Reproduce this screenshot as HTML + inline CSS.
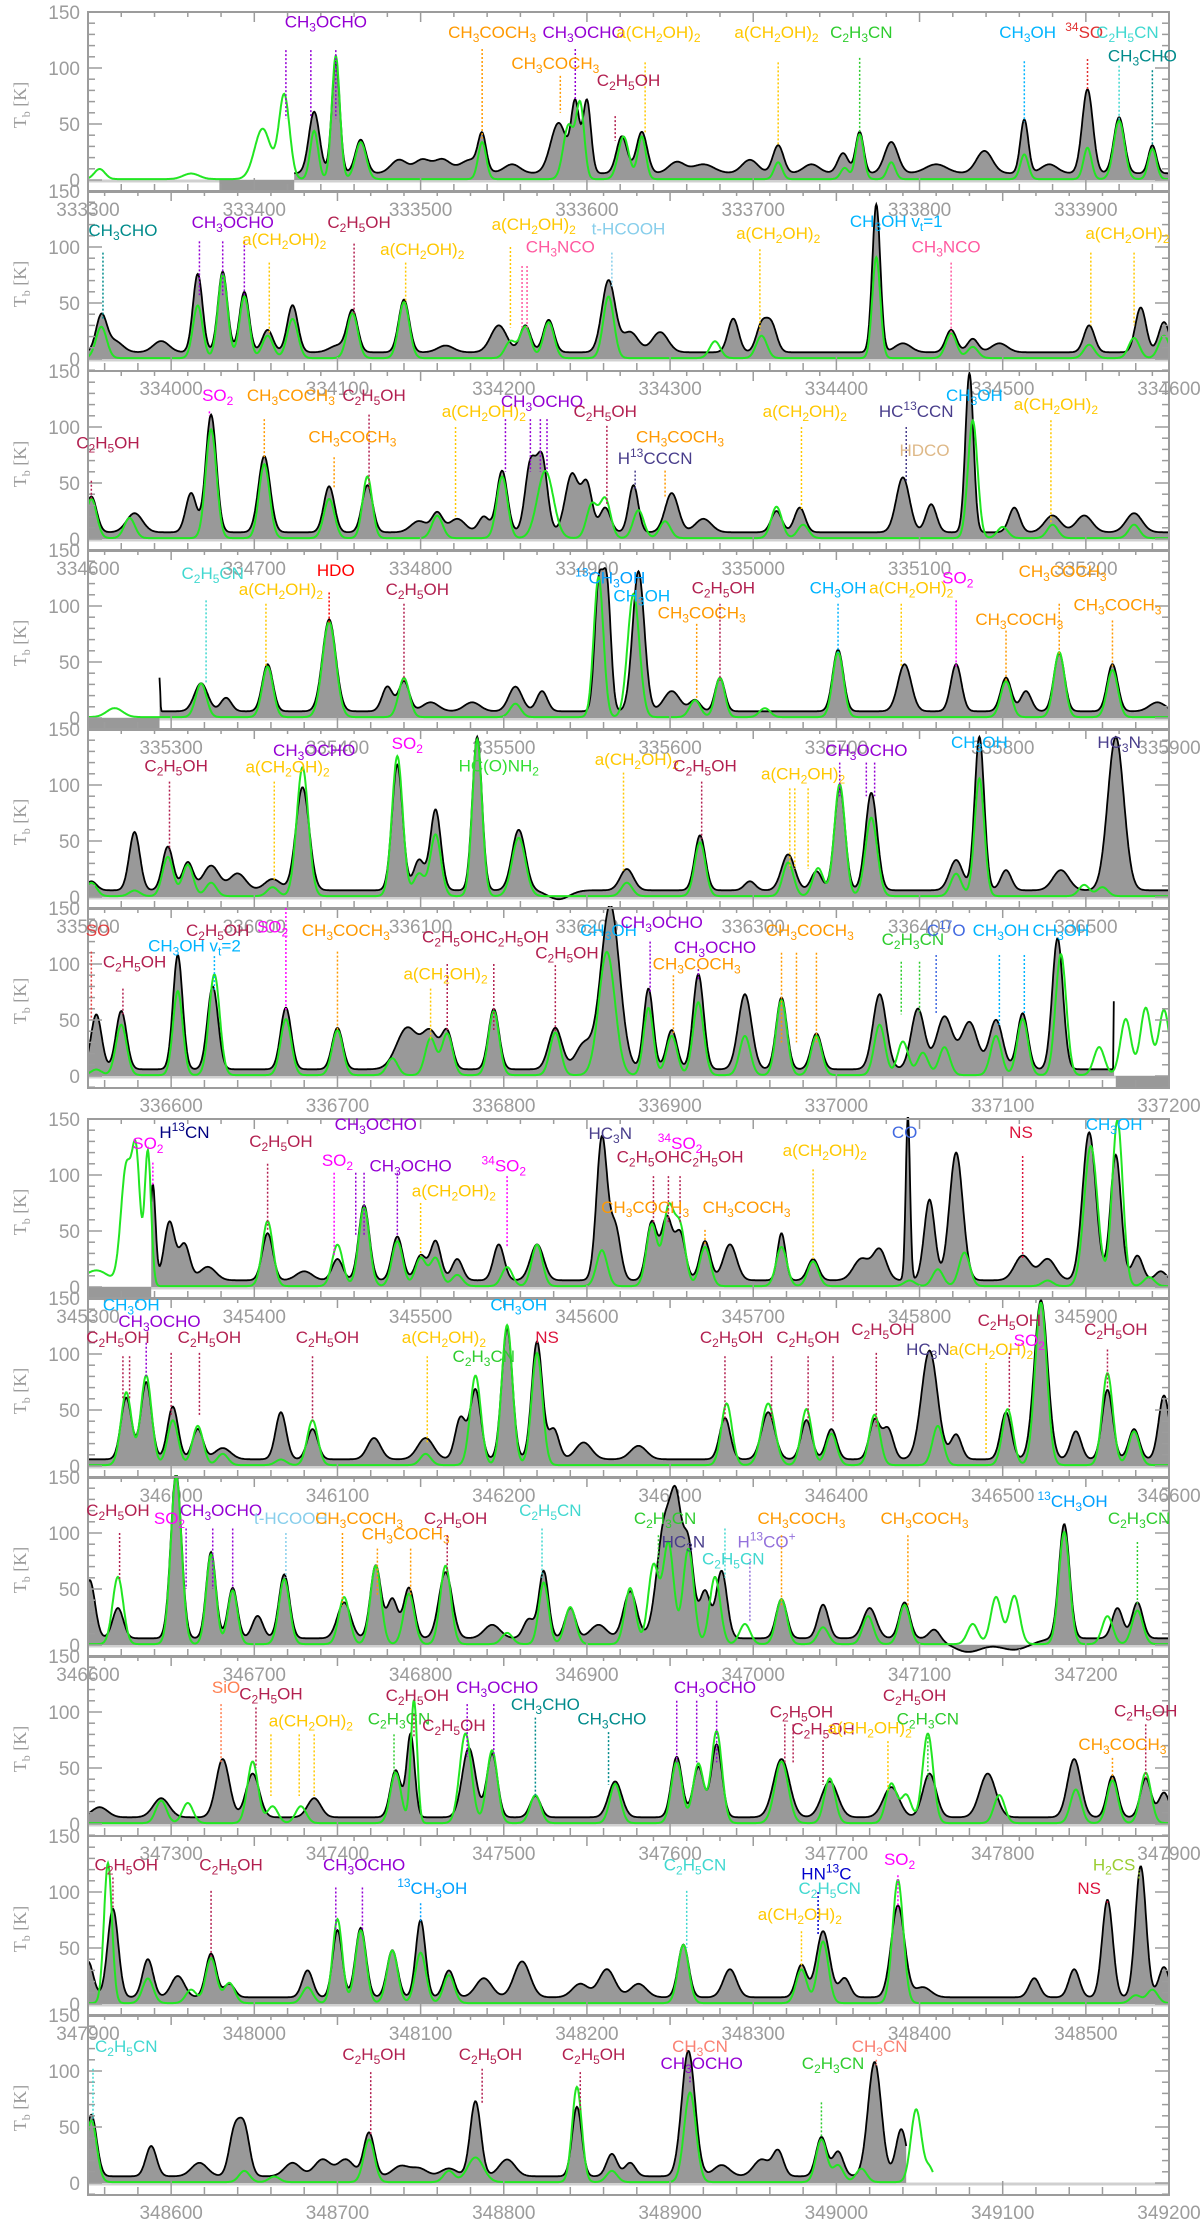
<!DOCTYPE html>
<html><head><meta charset="utf-8">
<style>
html,body{margin:0;padding:0;background:#fff;}
svg{display:block;}
</style></head>
<body>
<svg id="chart" xmlns="http://www.w3.org/2000/svg" width="1200" height="2227" viewBox="0 0 1200 2227"></svg>
<script>
const panelStarts=[333300,333950,334600,335250,335900,336550,345300,345950,346600,347250,347900,348550];
const obsRange=[[333424,333950],[333950,334600],[334600,335250],[335293,335900],[335900,336550],[336550,337167],[345338,345950],[345950,346600],[346600,347250],[347250,347900],[347900,348550],[348550,349042]];
const modRange=[[333300,333950],[333950,334600],[334600,335250],[335250,335900],[335900,336550],[336550,337200],[345300,345950],[345950,346600],[346600,347250],[347250,347900],[347900,348550],[348550,349058]];
const maskedBlocks=[[333379,333424],null,null,[335250,335293],null,[337168,337200],[345300,345338],null,null,null,null,null];
const obsLines=[
[[333436,55,2],[333449,100,1.5],[333464,30,2],[333487,12,3],[333501,12,3],[333513,12,3],[333530,12,4],[333537,30,1.5],[333555,8,3],[333583,45,3],[333593,60,1.5],[333600,65,1.5],[333621,33,2],[333633,37,2],[333654,10,3],[333670,8,4],[333698,12,3],[333715,25,2],[333735,8,3],[333754,18,2],[333764,37,1.5],[333783,28,2.5],[333810,8,4],[333839,20,3],[333863,48,1.5],[333878,8,3],[333901,75,2],[333920,50,2],[333940,25,1.5]],
[[333958,32,2],[333966,10,3],[333994,10,3],[334016,70,1.8],[334031,72,1.8],[334044,54,1.8],[334058,20,2],[334073,42,2],[334100,6,3],[334109,37,2],[334140,47,2],[334165,6,3],[334197,24,3],[334213,24,2],[334227,29,2],[334263,64,2.5],[334276,18,3],[334294,18,3],[334338,30,2],[334355,24,2],[334361,24,2],[334424,132,1.5],[334440,8,3],[334469,20,2],[334482,12,2],[334498,8,3],[334552,24,2],[334583,40,2],[334597,27,2]],
[[334602,32,2],[334628,17,3],[334662,35,2],[334674,105,2],[334706,68,2.2],[334745,41,2],[334768,42,2],[334799,10,3],[334810,17,2],[334822,12,3],[334838,14,2],[334849,55,2],[334866,60,2],[334873,65,2],[334891,52,2.5],[334900,42,2],[334911,22,2],[334928,42,1.8],[334951,35,2.5],[334970,12,3],[335014,19,2],[335028,22,2],[335090,49,2.5],[335107,25,2],[335130,142,1.5],[335157,22,2],[335180,15,3],[335199,15,3],[335229,17,3]],
[[335293,30,0.4],[335318,25,2.5],[335333,12,2],[335358,42,2],[335395,82,2.5],[335430,22,2],[335440,27,2],[335456,8,3],[335481,8,3],[335507,22,2.5],[335523,18,2],[335557,108,1.5],[335562,110,1.5],[335581,125,2.2],[335601,18,3],[335615,10,2],[335630,30,1.8],[335701,55,2],[335741,42,2.5],[335772,42,2],[335802,30,2],[335814,18,2],[335834,52,2],[335866,42,2],[335893,8,3]],
[[335902,8,2],[335928,52,2],[335948,39,2],[335960,25,2],[335974,22,3],[335990,15,3],[336011,10,3],[336029,92,2.5],[336086,112,2],[336099,27,2],[336109,72,2],[336134,137,1.8],[336159,54,2.5],[336183,-8,4],[336224,19,2.5],[336268,49,2],[336298,8,2],[336321,32,2.5],[336338,17,2],[336352,92,2],[336371,87,2.2],[336422,27,2.5],[336436,137,1.8],[336452,18,2],[336485,18,3],[336518,137,3]],
[[336555,49,2],[336570,52,2],[336604,102,1.8],[336625,74,2],[336669,55,2],[336700,37,2],[336742,37,4],[336756,32,3],[336766,32,2],[336794,54,2],[336831,37,2.5],[336848,22,3],[336864,147,3.5],[336887,72,1.8],[336901,35,2],[336917,85,2],[336945,67,2.5],[336967,64,2],[336988,32,2],[337026,67,2.5],[337049,54,2.5],[337065,47,3],[337080,42,3],[337096,44,2.5],[337112,50,2],[337133,117,2],[337167,100,0.2]],
[[345339,85,1],[345349,52,2],[345358,32,2],[345372,12,3],[345408,42,2],[345430,8,3],[345450,19,2],[345466,67,2],[345486,39,2],[345500,22,2],[345509,35,2],[345522,19,2],[345547,32,2],[345570,32,2.5],[345609,127,2],[345617,47,2],[345639,52,2],[345648,55,2],[345656,42,2],[345671,35,2],[345686,32,2.5],[345717,42,1.5],[345736,19,2],[345765,19,3],[345776,27,2.5],[345793,147,0.8],[345806,72,2],[345822,114,2.5],[345862,22,3],[345877,19,3],[345902,132,2.5],[345918,112,2],[345931,22,2],[345945,8,2]],
[[345973,55,2],[345985,69,2],[346001,47,2],[346016,27,2],[346031,10,3],[346066,42,2],[346085,27,2],[346122,19,2.5],[346153,19,3],[346174,37,2],[346183,62,2],[346202,117,2],[346220,105,2],[346230,27,2],[346248,15,3],[346281,12,3],[346333,37,2],[346359,42,2.5],[346382,35,2],[346397,27,2],[346423,35,2],[346431,27,2],[346456,97,3],[346472,22,2],[346502,42,2],[346523,142,2.5],[346544,25,2],[346563,62,2],[346579,27,2],[346597,57,2]],
[[346601,52,2],[346618,27,2],[346653,147,2],[346674,77,1.8],[346687,45,1.8],[346702,20,2],[346718,57,2],[346754,32,2.5],[346773,65,2],[346783,35,2],[346793,45,2],[346815,59,2.5],[346843,12,3],[346865,17,2],[346874,60,1.8],[346890,27,2],[346907,12,3],[346926,42,2.5],[346947,104,3],[346954,89,2],[346961,82,2],[346971,42,2],[346981,60,2],[347017,35,2],[347042,30,2],[347070,27,2.5],[347091,32,2],[347109,9,2],[347129,-12,6],[347157,-10,6],[347187,102,2],[347219,27,2],[347231,32,2]],
[[347257,9,3],[347294,17,3],[347331,52,2.5],[347349,39,2.5],[347386,17,2.5],[347435,42,2],[347444,74,1.5],[347479,62,2.5],[347493,57,2],[347519,19,2],[347567,32,2.5],[347604,54,2],[347617,45,2],[347628,65,2],[347667,52,3],[347696,32,3],[347733,27,3],[347756,39,2.5],[347791,39,3],[347843,52,2.5],[347866,37,2],[347886,35,2],[347897,22,2]],
[[347900,32,2],[347915,79,2],[347936,34,2],[347954,19,2.5],[347974,39,2],[347985,12,2],[348032,24,2],[348050,60,1.8],[348064,62,2],[348083,42,2],[348100,69,1.8],[348117,24,2],[348138,17,3],[348161,32,3],[348196,12,3],[348212,25,3],[348231,12,3],[348258,47,2],[348286,25,2.5],[348329,29,2],[348342,59,2.5],[348355,17,2],[348387,82,2.5],[348402,9,3],[348469,17,2],[348493,25,2],[348513,87,2],[348533,117,2],[348547,27,2]],
[[348552,55,2],[348588,27,2],[348617,12,3],[348638,39,2],[348644,42,2],[348673,12,3],[348691,15,3],[348705,15,3],[348719,39,2],[348738,9,3],[348749,7,3],[348767,7,3],[348783,67,2],[348802,15,3],[348844,62,1.8],[348865,20,2],[348876,12,2],[348911,112,2.5],[348931,10,3],[348955,15,3],[348965,22,2],[348991,35,2],[349001,22,2],[349023,102,2.5],[349039,42,2]]
];
const modLines=[
[[333307,9,2],[333362,5,3],[333405,45,3],[333418,75,2],[333436,43,1.5],[333449,110,1.5],[333464,33,2],[333537,33,1.5],[333589,48,2],[333596,65,1.5],[333622,38,2],[333633,38,1.5],[333715,15,1.5],[333755,10,1.5],[333764,40,1.5],[333783,15,1.5],[333863,22,1.5],[333901,28,1.5],[333920,52,2],[333940,27,1.5]],
[[333958,28,2],[334016,47,1.8],[334031,75,1.8],[334044,55,1.8],[334058,20,2],[334073,35,2],[334109,40,2],[334140,50,2],[334204,15,2],[334213,28,2],[334227,32,2],[334263,55,2],[334327,15,2],[334355,20,2],[334424,90,1.5],[334469,22,2],[334482,10,2],[334552,12,2],[334579,18,2],[334597,20,2]],
[[334602,35,2],[334625,18,2],[334674,97,2],[334706,66,2],[334745,35,2],[334768,55,1.8],[334810,20,2],[334849,55,2],[334875,60,3],[334903,30,2],[334911,35,2],[334931,25,2],[334947,15,2],[335014,28,2],[335030,12,2],[335132,105,1.8],[335150,10,2],[335180,12,2],[335229,12,2]],
[[335266,8,3],[335318,30,2],[335358,45,2],[335395,85,2.5],[335440,35,2],[335507,12,2],[335557,125,1.8],[335578,110,2.2],[335615,15,2],[335630,35,1.8],[335657,8,2],[335701,58,2],[335802,32,2],[335834,58,2],[335866,42,2]],
[[335902,12,2],[335928,5,2],[335948,35,2],[335960,28,2],[335974,12,2],[336011,8,2],[336029,115,2.2],[336086,125,2],[336099,20,2],[336109,55,2],[336134,140,1.8],[336159,52,2.5],[336224,12,2],[336268,48,2],[336321,30,2],[336339,25,2],[336352,100,2],[336371,70,2.2],[336422,20,2],[336436,105,1.8],[336499,10,2],[336510,8,2]],
[[336555,5,2],[336570,45,2],[336604,75,1.8],[336626,90,2],[336669,50,2],[336700,40,2],[336733,15,2],[336756,33,2],[336766,37,2],[336794,57,2],[336831,38,2],[336862,110,3],[336887,60,1.8],[336901,35,2],[336917,65,2],[336945,35,2],[336967,67,2],[336988,35,2],[337026,45,2],[337040,30,2],[337052,20,2],[337065,25,2],[337096,35,2],[337112,50,2],[337135,108,2],[337158,25,2],[337174,50,2],[337186,60,2],[337197,58,2]],
[[345305,14,5],[345323,105,2],[345329,108,1.5],[345336,120,1.2],[345408,58,2],[345450,37,2],[345466,70,2],[345486,40,2],[345500,25,2],[345509,25,2],[345522,10,2],[345552,17,2],[345570,37,2],[345609,32,2],[345639,55,2],[345649,68,2],[345656,52,2],[345671,35,2],[345717,35,2],[345736,22,2],[345794,5,2],[345811,15,2],[345827,30,2],[345877,5,2],[345903,125,2.5],[345919,148,2],[345938,8,2]],
[[345973,65,2],[345985,80,2],[346001,40,2],[346016,35,2],[346031,10,2],[346066,5,2],[346085,40,2],[346153,10,2],[346183,80,2],[346202,125,2],[346220,100,2],[346334,55,2],[346359,55,2.5],[346382,50,2],[346397,28,2],[346423,45,2],[346461,35,2],[346503,50,2],[346523,145,2.2],[346563,82,2],[346579,30,2]],
[[346618,60,2],[346653,150,2],[346674,80,1.8],[346687,48,1.8],[346718,58,2],[346754,42,2],[346773,70,2],[346793,45,2],[346815,70,2],[346852,10,2],[346874,55,1.8],[346890,33,2],[346926,50,2],[346940,70,2],[346949,90,2],[346961,85,2],[346977,60,2],[346995,18,2],[347017,40,2],[347042,15,2],[347069,25,2],[347091,35,2],[347132,18,2],[347146,42,2],[347157,43,2],[347187,100,2],[347213,25,2],[347231,30,2]],
[[347294,20,2],[347310,18,2],[347349,55,2],[347361,15,2],[347378,15,2],[347435,45,2],[347446,110,1.2],[347477,80,2.2],[347493,65,2],[347519,25,2],[347567,35,2],[347604,55,2],[347617,53,2],[347628,82,2],[347667,55,2.5],[347696,40,2],[347733,35,2],[347742,25,2],[347755,80,2],[347798,25,2],[347844,30,2],[347866,38,2],[347886,45,2]],
[[347912,125,1.5],[347936,22,2],[347962,12,2],[347974,40,2],[347985,18,2],[348032,14,2],[348050,75,1.8],[348064,65,2],[348083,47,2],[348100,45,2],[348117,25,2],[348258,52,2],[348329,30,2],[348342,55,2],[348387,110,2],[348530,7,2],[348540,12,2]],
[[348552,55,2],[348644,10,2],[348662,5,2],[348719,38,2],[348767,10,2],[348783,22,3],[348844,85,1.8],[348865,10,2],[348912,80,2.2],[348991,38,2],[349001,15,2],[349015,12,2],[349048,65,2],[349056,12,1.5]]
];
const labels=[
[["CH_{3}OCHO",143,136,[119,134,149],116,55],["CH_{3}COCH_{3}",243,127,[237],117,37],["CH_{3}OCHO",298,127,[293],117,72],["a(CH_{2}OH)_{2}",343,127,[335],105,42],["CH_{3}COCH_{3}",281,99,[284],93,60],["C_{2}H_{5}OH",325,84,[317],57,35],["a(CH_{2}OH)_{2}",414,127,[415],105,30],["C_{2}H_{3}CN",465,127,[464],109,40],["CH_{3}OH",565,127,[563],106,52],["^{34}SO",599,127,[601],108,80],["C_{2}H_{5}CN",625,127,[620],102,52],["CH_{3}CHO",634,106,[640],98,30]],
[["CH_{3}CHO",21,110,[9],95,35],["CH_{3}OCHO",87,117,[67,81,94],105,57],["a(CH_{2}OH)_{2}",118,102,[109],86,22],["C_{2}H_{5}OH",163,117,[160],103,40],["a(CH_{2}OH)_{2}",201,93,[191],86,50],["a(CH_{2}OH)_{2}",268,115,[254],100,28],["CH_{3}NCO",284,95,[261,264],83,28],["t-HCOOH",325,111,[315],95,65],["CH_{3}OH v_{t}=1",486,118,[],0,0],["a(CH_{2}OH)_{2}",415,107,[404],98,25],["CH_{3}NCO",516,95,[519],86,20],["a(CH_{2}OH)_{2}",625,107,[603,629],95,30]],
[["C_{2}H_{5}OH",12,81,[2],52,35],["SO_{2}",78,123,[73],114,110],["CH_{3}COCH_{3}",122,123,[106],107,72],["C_{2}H_{5}OH",172,123,[169],111,45],["CH_{3}COCH_{3}",159,86,[148],73,45],["a(CH_{2}OH)_{2}",238,109,[221],100,20],["CH_{3}OCHO",273,118,[251,266,272,276],107,60],["C_{2}H_{5}OH",311,109,[312],101,30],["H^{13}CCCN",341,67,[329],61,45],["CH_{3}COCH_{3}",356,86,[347],61,38],["a(CH_{2}OH)_{2}",431,109,[429],100,25],["HC^{13}CCN",498,109,[492],100,52],["HDCO",503,74,[],0,0],["CH_{3}OH",533,123,[],0,0],["a(CH_{2}OH)_{2}",582,115,[579],106,15]],
[["C_{2}H_{5}CN",75,124,[71],105,30],["a(CH_{2}OH)_{2}",116,110,[107],102,45],["HDO",149,127,[145],112,85],["C_{2}H_{5}OH",198,110,[190],102,33],["^{13}CH_{3}OH",314,120,[],0,0],["CH_{3}OH",333,104,[],0,0],["CH_{3}COCH_{3}",369,89,[366],84,18],["C_{2}H_{5}OH",382,111,[380],102,33],["CH_{3}OH",451,111,[451],102,58],["a(CH_{2}OH)_{2}",495,111,[489],102,45],["SO_{2}",523,120,[522],105,45],["CH_{3}COCH_{3}",586,126,[584],102,55],["CH_{3}COCH_{3}",560,83,[552],78,33],["CH_{3}COCH_{3}",619,96,[616],87,45]],
[["C_{2}H_{5}OH",53,112,[49],103,42],["a(CH_{2}OH)_{2}",120,111,[112],103,15],["CH_{3}OCHO",136,126,[],0,0],["SO_{2}",192,132,[],0,0],["HC(O)NH_{2}",247,112,[],0,0],["a(CH_{2}OH)_{2}",330,118,[322],111,22],["C_{2}H_{5}OH",371,112,[369],103,52],["a(CH_{2}OH)_{2}",430,105,[422,425,433],97,25],["CH_{3}OCHO",468,126,[452,468,473],120,90],["CH_{3}OH",536,133,[],0,0],["HC_{3}N",620,133,[],0,0]],
[["SO",6,125,[2],111,50],["C_{2}H_{5}OH",28,97,[21],78,55],["C_{2}H_{5}OH",78,125,[],0,0],["CH_{3}OH v_{t}=2",64,111,[76],107,77],["SO_{2}",111,128,[119],150,58],["CH_{3}COCH_{3}",155,125,[150],111,40],["C_{2}H_{5}OHC_{2}H_{5}OH",239,119,[216,244],100,40],["a(CH_{2}OH)_{2}",215,86,[206],78,33],["C_{2}H_{5}OH",288,105,[281],99,40],["CH_{3}OH",313,125,[],0,0],["CH_{3}OCHO",345,132,[338],120,75],["CH_{3}OCHO",377,110,[367],99,85],["CH_{3}COCH_{3}",366,95,[352],90,38],["CH_{3}COCH_{3}",434,125,[417,426,438],110,30],["C_{2}H_{3}CN",496,117,[489,500],102,55],["C^{17}O",516,125,[510],108,55],["CH_{3}OH",549,125,[548],108,45],["CH_{3}OH",585,125,[563],108,55]],
[["SO_{2}",36,123,[39],111,90],["H^{13}CN",58,133,[],0,0],["C_{2}H_{5}OH",116,125,[108],110,50],["CH_{3}OCHO",173,140,[],0,0],["SO_{2}",150,108,[148],102,28],["CH_{3}OCHO",194,103,[161,166,186],102,45],["a(CH_{2}OH)_{2}",220,81,[200],75,28],["^{34}SO_{2}",250,103,[252],99,35],["HC_{3}N",314,132,[],0,0],["C_{2}H_{5}OHC_{2}H_{5}OH",356,111,[340,349,356],99,57],["^{34}SO_{2}",356,123,[],0,0],["CH_{3}COCH_{3}",335,66,[],0,0],["CH_{3}COCH_{3}",396,66,[371],51,38],["a(CH_{2}OH)_{2}",443,117,[436],105,25],["CO",491,133,[],0,0],["NS",561,133,[562],117,25],["CH_{3}OH",617,140,[],0,0]],
[["CH_{3}OH",26,139,[],0,0],["CH_{3}OCHO",43,124,[35],110,80],["C_{2}H_{5}OH",18,110,[21,25],98,60],["C_{2}H_{5}OH",73,110,[50,67],101,45],["C_{2}H_{5}OH",144,110,[135],98,40],["a(CH_{2}OH)_{2}",214,110,[204],98,20],["CH_{3}OH",259,139,[],0,0],["C_{2}H_{3}CN",238,93,[],0,0],["NS",276,110,[],0,0],["C_{2}H_{5}OH",387,110,[383],98,40],["C_{2}H_{5}OH",433,110,[411,433,448],98,40],["C_{2}H_{5}OH",478,117,[474],101,35],["HC_{3}N",505,99,[],0,0],["a(CH_{2}OH)_{2}",543,99,[540],92,10],["C_{2}H_{5}OH",554,125,[554],101,50],["SO_{2}",566,107,[],0,0],["C_{2}H_{5}OH",618,117,[613],104,70]],
[["C_{2}H_{5}OH",18,115,[19],100,58],["SO_{2}",49,108,[],0,0],["CH_{3}OCHO",80,115,[59,75,87],104,50],["t-HCOOH",122,108,[119],100,60],["CH_{3}COCH_{3}",163,108,[153],100,35],["CH_{3}COCH_{3}",191,94,[174,194],86,45],["C_{2}H_{5}OH",221,108,[216],98,65],["C_{2}H_{5}CN",278,115,[273],104,60],["C_{2}H_{3}CN",347,108,[343],98,60],["HC_{3}N",358,87,[],0,0],["C_{2}H_{5}CN",388,72,[383],104,60],["H^{13}CO^{+}",408,87,[398],77,20],["CH_{3}COCH_{3}",429,108,[417],98,35],["CH_{3}COCH_{3}",503,108,[493],98,35],["^{13}CH_{3}OH",592,123,[],0,0],["C_{2}H_{3}CN",632,108,[631],92,35]],
[["SiO",83,117,[80],107,55],["C_{2}H_{5}OH",110,111,[101],104,50],["a(CH_{2}OH)_{2}",134,87,[110,127,136],80,25],["C_{2}H_{3}CN",187,89,[184],80,45],["C_{2}H_{5}OH",198,110,[196],98,77],["C_{2}H_{5}OH",220,83,[],0,0],["CH_{3}OCHO",246,117,[228,244],107,60],["CH_{3}CHO",275,102,[269],95,25],["CH_{3}CHO",315,89,[313],82,35],["CH_{3}OCHO",377,117,[354,366,378],110,55],["C_{2}H_{5}OH",429,95,[419,424],89,55],["C_{2}H_{5}OH",442,80,[442],75,35],["a(CH_{2}OH)_{2}",470,81,[481],74,30],["C_{2}H_{5}OH",497,110,[],0,0],["C_{2}H_{3}CN",505,89,[505],81,40],["C_{2}H_{5}OH",636,96,[636],89,40],["CH_{3}COCH_{3}",622,66,[616],59,40]],
[["C_{2}H_{5}OH",23,119,[15],113,85],["C_{2}H_{5}OH",86,119,[74],101,40],["CH_{3}OCHO",166,119,[149,165],104,65],["^{13}CH_{3}OH",207,98,[200],90,72],["C_{2}H_{5}CN",365,119,[360],101,50],["HN^{13}C",444,111,[439],100,62],["C_{2}H_{5}CN",446,98,[],0,0],["a(CH_{2}OH)_{2}",428,75,[429],65,32],["SO_{2}",488,124,[487],115,85],["NS",602,98,[613],92,90],["H_{2}CS",617,119,[632],112,120]],
[["C_{2}H_{5}CN",23,117,[3],102,55],["C_{2}H_{5}OH",172,110,[170],99,42],["C_{2}H_{5}OH",242,110,[237],102,70],["C_{2}H_{5}OH",304,110,[296],99,65],["CH_{3}CN",368,117,[],0,0],["CH_{3}OCHO",369,102,[362],95,90],["C_{2}H_{3}CN",448,102,[441],72,38],["CH_{3}CN",476,117,[474],110,105]]
];
const yTicks=[0,50,100,150];

const NS='http://www.w3.org/2000/svg';
const svg=document.getElementById('chart');
const zeros=[180,359,539,718,897,1076,1287,1466,1645,1824,2004,2183];
const XL=88, XR=1169, SPAN=650, KS=1.12, WF=1.6;
const GRAY='#9c9c9c';
function mk(tag,attrs,parent){const e=document.createElementNS(NS,tag);for(const k in attrs)e.setAttribute(k,attrs[k]);(parent||svg).appendChild(e);return e;}
function colorOf(t){
 const c={"CH_{3}OCHO":"#9400d3","CH_{3}COCH_{3}":"#ff9900","a(CH_{2}OH)_{2}":"#ffc800","C_{2}H_{5}OH":"#b22050","C_{2}H_{5}OHC_{2}H_{5}OH":"#b22050","C_{2}H_{3}CN":"#2ecc2e","CH_{3}OH":"#00b4ff","CH_{3}OH v_{t}=1":"#00b4ff","CH_{3}OH v_{t}=2":"#00b4ff","^{13}CH_{3}OH":"#00a0ff","^{34}SO":"#e03030","C_{2}H_{5}CN":"#40d8d0","CH_{3}CHO":"#008b8b","CH_{3}NCO":"#ff5aa0","t-HCOOH":"#87ceeb","SO_{2}":"#ff00ff","^{34}SO_{2}":"#ff00ff","HC^{13}CCN":"#483d8b","H^{13}CCCN":"#483d8b","HC_{3}N":"#483d8b","HDCO":"#deb887","HDO":"#ff0000","HC(O)NH_{2}":"#33dd33","SO":"#e04040","CO":"#4169e1","C^{17}O":"#4169e1","NS":"#dc143c","H^{13}CN":"#000080","SiO":"#ff7f50","HN^{13}C":"#0000cd","H_{2}CS":"#9acd32","H^{13}CO^{+}":"#9370db","CH_{3}CN":"#fa8072"};
 return c[t]||'#555';
}
function addRich(textEl,s){
 const re=/([_^])\{([^}]*)\}|([^_^]+)/g;let m,shift=0;
 while((m=re.exec(s))){
  let ts=document.createElementNS(NS,'tspan');
  if(m[3]!==undefined){ts.textContent=m[3];ts.setAttribute('dy',String(-shift));shift=0;}
  else{const d=m[1]==='_'?4:-7;ts.textContent=m[2];ts.setAttribute('dy',String(d-shift));shift=d;ts.setAttribute('font-size','12');}
  textEl.appendChild(ts);
 }
}
function spectrum(lines,f,base){let v=base;for(const l of lines){const s=l[2]<0.5?l[2]:l[2]*WF;const d=(f-l[0])/s;if(d>-5&&d<5)v+=l[1]*Math.exp(-0.5*d*d);}return v;}

panelStarts.forEach((f0,p)=>{
 const z=zeros[p], top=z-168, bot=z+12;
 const X=f=>XL+(f-f0)*(XR-XL)/SPAN, Y=k=>z-k*KS;
 const g=mk('g',{});
 
 
 const cp=mk('clipPath',{id:'cp'+p},g);mk('rect',{x:XL,y:top-2,width:XR-XL,height:bot-top+2},cp);
 const zb=mk('line',{x1:XL,x2:XR,y1:z+1,y2:z+1,stroke:'#d0d0d0','stroke-width':3},g);
 
 const cg=mk('g',{'clip-path':'url(#cp'+p+')'},g);
 const mb=maskedBlocks[p];
 if(mb){const r=mk('rect',{x:X(mb[0]),y:z,width:X(mb[1])-X(mb[0]),height:11,fill:'#999'},cg);}
 const [o0,o1]=obsRange[p];let pts=[];
 for(let f=o0;f<=o1+0.01;f+=0.4){pts.push([X(f),Y(spectrum(obsLines[p],f,6))]);}
 const ptxt=pts.map(q=>q[0].toFixed(1)+','+q[1].toFixed(1)).join(' ');
 const fill=mk('polygon',{points:X(o0).toFixed(1)+','+z+' '+ptxt+' '+X(o1).toFixed(1)+','+z,fill:'#999','stroke':'none'},cg);
 
 const ol=mk('polyline',{points:ptxt,fill:'none',stroke:'#000','stroke-width':1.8},cg);
 
 const [m0,m1]=modRange[p];let mp=[];
 for(let f=m0;f<=m1+0.01;f+=0.4){mp.push(X(f).toFixed(1)+','+Y(spectrum(modLines[p],f,0.8)).toFixed(1));}
 const ml=mk('polyline',{points:mp.join(' '),fill:'none',stroke:'#22e622','stroke-width':2},cg);
 
 const fr=mk('rect',{x:XL,y:top,width:XR-XL,height:bot-top,fill:'none',stroke:GRAY,'stroke-width':2},g);
 
 for(let f=Math.ceil(f0/20)*20;f<=f0+SPAN;f+=20){
  const major=f%100===0,x=X(f);
  mk('line',{x1:x,x2:x,y1:bot,y2:bot-(major?14:8),stroke:GRAY,'stroke-width':1.5},g);
  mk('line',{x1:x,x2:x,y1:top,y2:top+(major?10:5),stroke:GRAY,'stroke-width':1.5},g);
  if(major){const t=mk('text',{x:x,y:bot+24,'text-anchor':'middle',fill:GRAY,'font-size':19,'font-family':'"Liberation Sans Narrow","Liberation Sans",sans-serif'},g);t.textContent=f;
   }
 }
 for(let k=-10;k<=150;k+=10){const y=Y(k),maj=k%50===0;
  mk('line',{x1:XL,x2:XL+(maj?14:7),y1:y,y2:y,stroke:GRAY,'stroke-width':1.5},g);
  mk('line',{x1:XR,x2:XR-(maj?14:7),y1:y,y2:y,stroke:GRAY,'stroke-width':1.5},g);}
 yTicks.forEach(k=>{const t=mk('text',{x:80,y:Y(k)+7,'text-anchor':'end',fill:GRAY,'font-size':19,'font-family':'"Liberation Sans Narrow","Liberation Sans",sans-serif'},g);t.textContent=k;
  });
 const yt=mk('text',{x:0,y:0,transform:'translate(26,'+(z-75)+') rotate(-90)','text-anchor':'middle',fill:GRAY,'font-size':18,'font-family':'"Liberation Serif",serif'},g);
 addRich(yt,'T_{b} [K]');
 
 labels[p].forEach(L=>{
  const [txt,tOff,tK,lOffs,lt,lb]=L;const col=colorOf(txt);
  lOffs.forEach(lo=>{const ln=mk('line',{x1:X(f0+lo),x2:X(f0+lo),y1:Y(lt),y2:Y(lb),stroke:col,'stroke-width':1.5,'stroke-dasharray':'2,2'},g);
   });
  const t=mk('text',{x:X(f0+tOff),y:Y(tK),'text-anchor':'middle',fill:col,'font-size':17,'font-family':'"Liberation Sans Narrow","Liberation Sans",sans-serif'},g);
  addRich(t,txt);
  
 });
});
</script>
</body></html>
